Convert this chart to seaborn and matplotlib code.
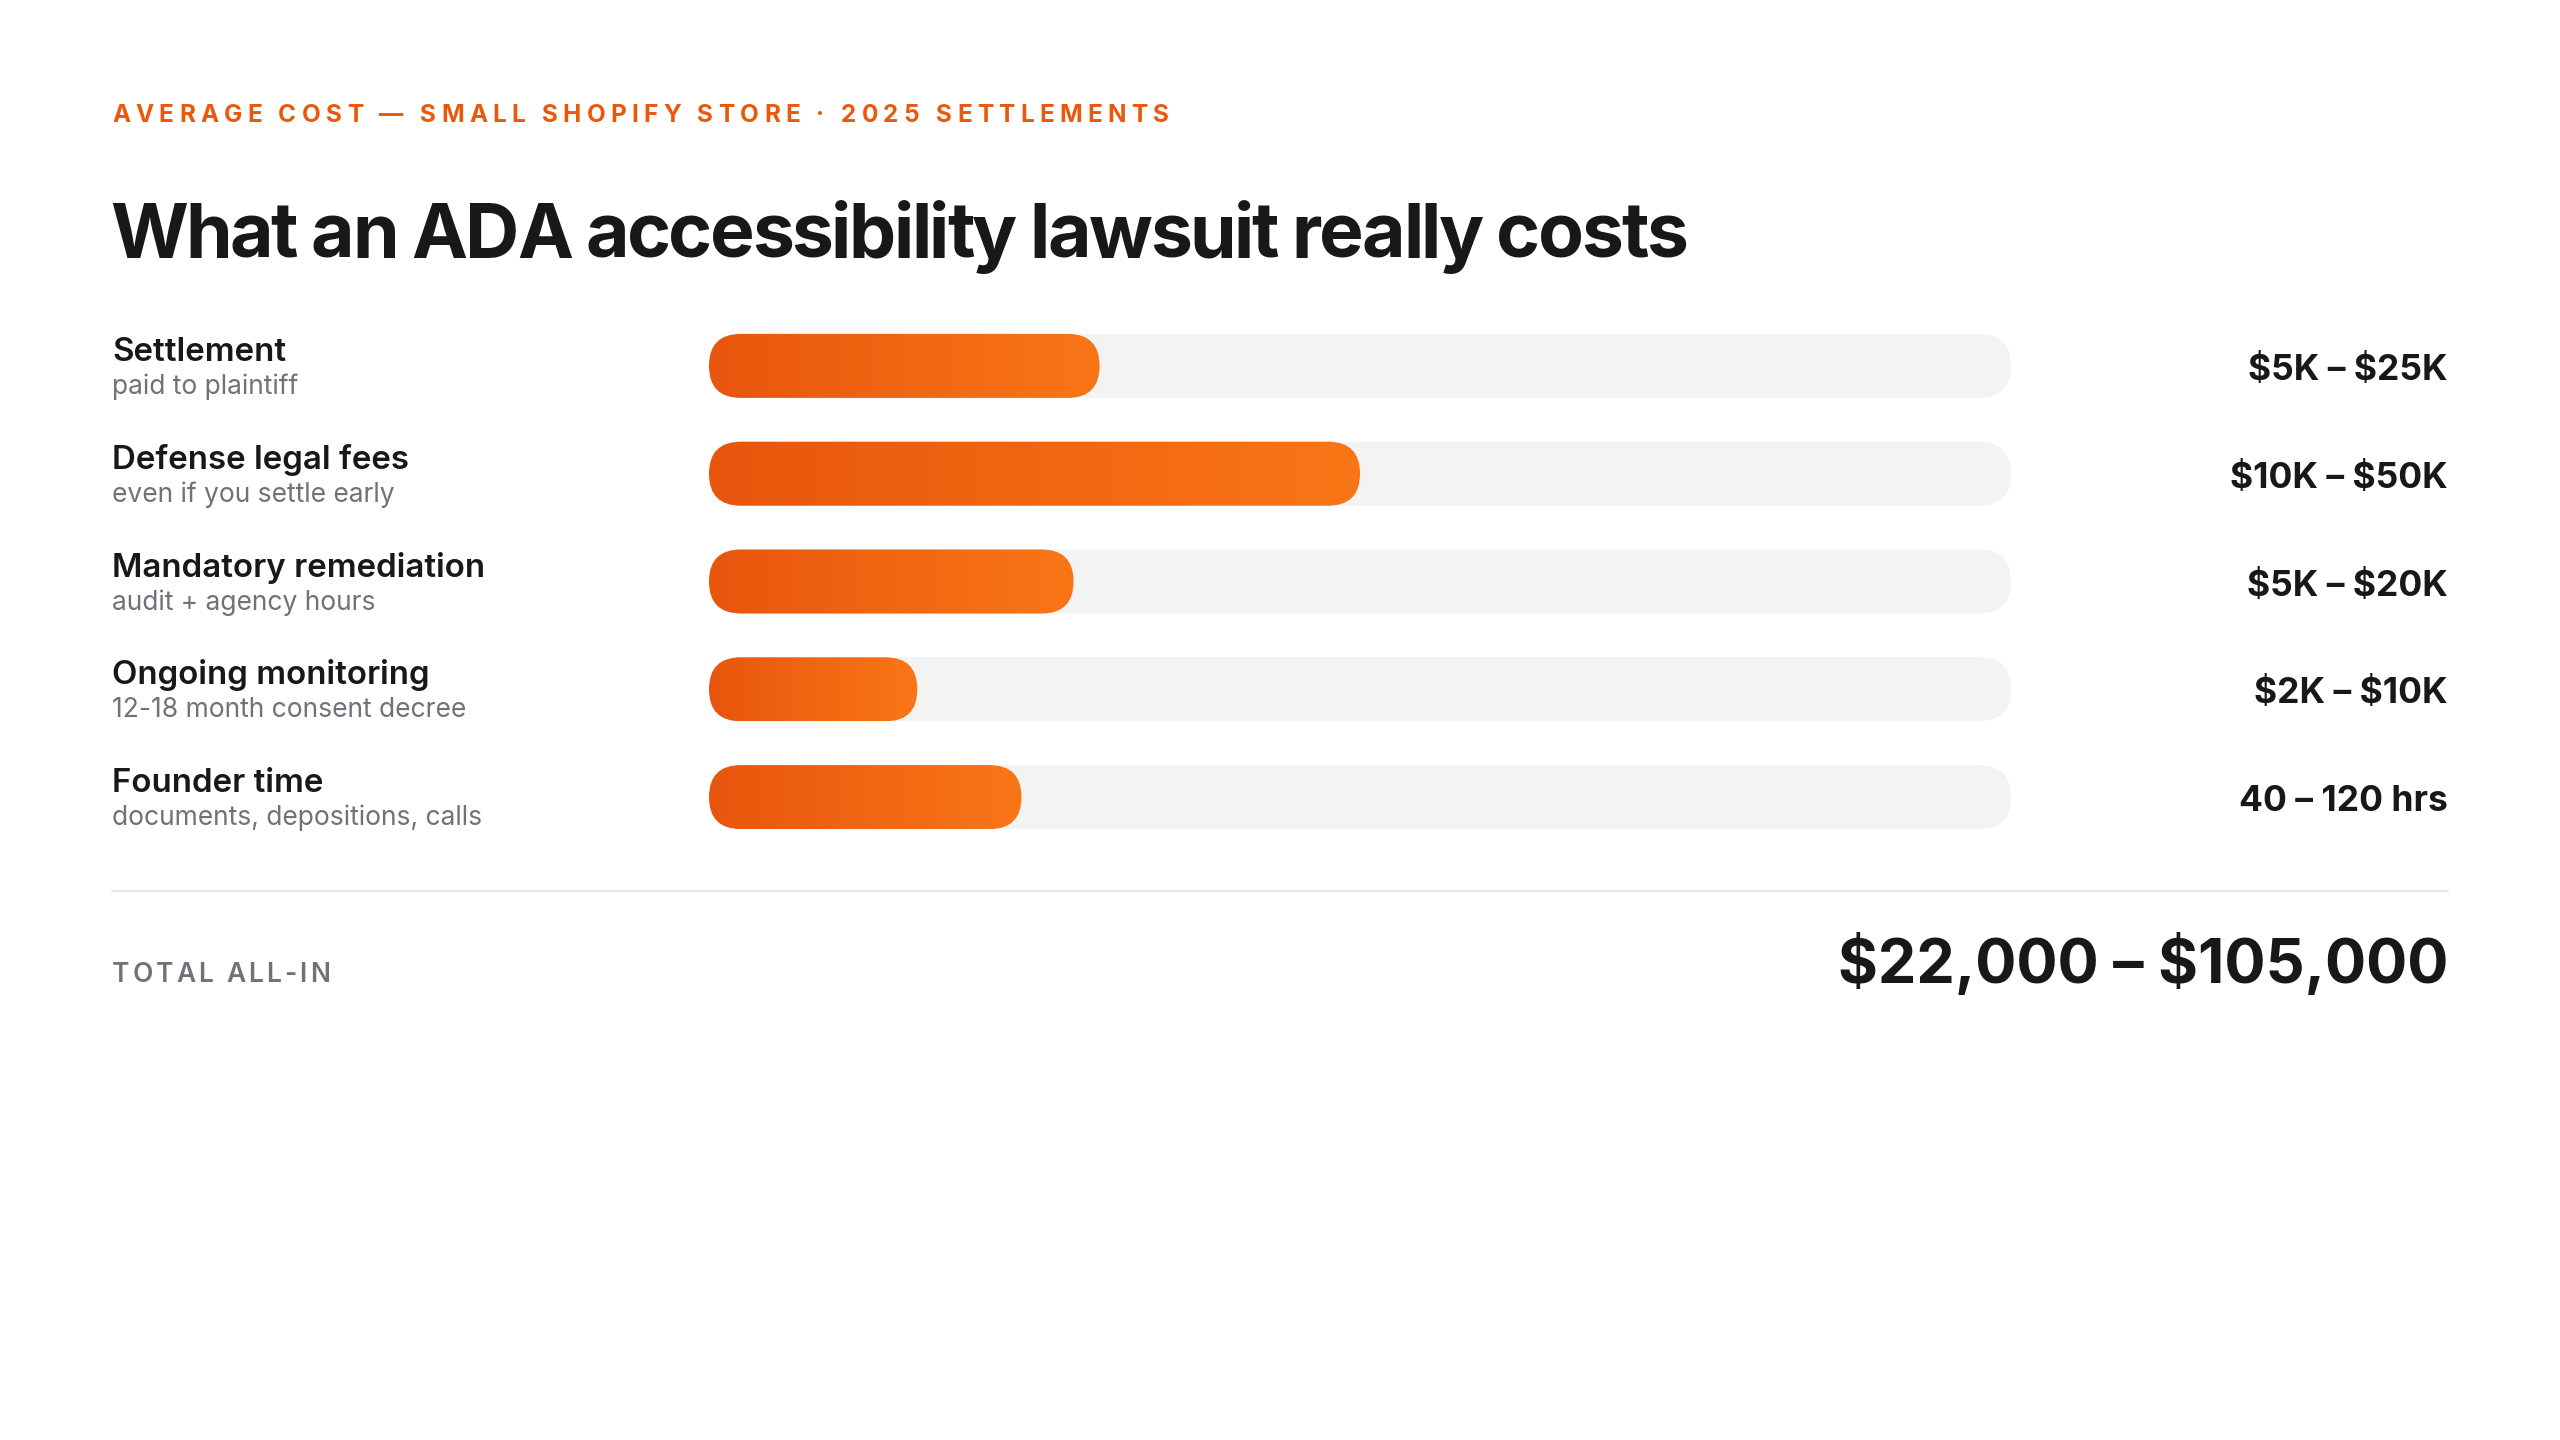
import numpy as np
import pandas as pd
import matplotlib
matplotlib.use("Agg")
import matplotlib.pyplot as plt
import seaborn as sns
from matplotlib.patches import FancyBboxPatch
from matplotlib.colors import LinearSegmentedColormap
from matplotlib.lines import Line2D
from matplotlib.transforms import blended_transform_factory

# chart data
cost_items = ["Settlement", "Defense legal fees", "Mandatory remediation",
              "Ongoing monitoring", "Founder time"]
cost_notes = ["paid to plaintiff", "even if you settle early", "audit + agency hours",
              "12-18 month consent decree", "documents, depositions, calls"]
bar_share = [30, 50, 28, 16, 24]          # % of track filled
cost_ranges = ["$5K – $25K", "$10K – $50K", "$5K – $20K", "$2K – $10K", "40 – 120 hrs"]
eyebrow = "AVERAGE COST — SMALL SHOPIFY STORE · 2025 SETTLEMENTS"
headline = "What an ADA accessibility lawsuit really costs"
total_label = "TOTAL ALL-IN"
total_value = "$22,000 – $105,000"

sns.set_theme(style="white")
plt.rcParams['font.family'] = ['Inter', 'DejaVu Sans']
plt.rcParams['text.parse_math'] = False   # keep the dollar signs literal

W, H = 2560, 1440
INK = "#18181b"
MUTED = "#71717a"
ORANGE = "#ea580c"

fig = plt.figure(figsize=(W / 100, H / 100), dpi=100)
fig.patch.set_facecolor("white")

# axes area for the bars (pixel geometry of the reference)
ax_left, ax_right, ax_top, ax_bottom = 709, 2011, 312, 851
ax = fig.add_axes([ax_left / W, 1 - ax_bottom / H, (ax_right - ax_left) / W, (ax_bottom - ax_top) / H])

df = pd.DataFrame({"item": cost_items, "share": bar_share, "track": [100] * len(cost_items)})
bar_w = 0.594
sns.barplot(data=df, x="track", y="item", color="#f3f3f3", width=bar_w, ax=ax)
sns.barplot(data=df, x="share", y="item", color=ORANGE, width=bar_w, ax=ax)
ax.set_xlim(0, 100)
ax.set_ylim(len(cost_items) - 0.5, -0.5)
ax.axis("off")

# swap seaborn's rectangles for pill shapes
px_x = (ax_right - ax_left) / 100
px_y = (ax_bottom - ax_top) / len(cost_items)
m_aspect = px_x / px_y
cmap = LinearSegmentedColormap.from_list("orange", ["#e8560d", "#f97617"])
gradient = np.linspace(0, 1, 256)[None, :]

rects = list(ax.patches)
n = len(cost_items)
for k, rect in enumerate(rects):
    x0, y0 = rect.get_xy()
    w, h = rect.get_width(), rect.get_height()
    rect.remove()
    r = h / m_aspect / 2
    pill = FancyBboxPatch((x0, y0), w, h, boxstyle=f"round,pad=0,rounding_size={r}",
                          mutation_aspect=m_aspect, linewidth=0)
    if k < n:
        pill.set_facecolor("#f3f3f3")
        pill.set_zorder(1)
        ax.add_patch(pill)
    else:
        pill.set_facecolor("none")
        pill.set_zorder(2)
        ax.add_patch(pill)
        im = ax.imshow(gradient, cmap=cmap, extent=[x0, x0 + w, y0 + h, y0],
                       aspect="auto", zorder=3, interpolation="bicubic")
        im.set_clip_path(pill)

ax.set_xlim(0, 100)
ax.set_ylim(len(cost_items) - 0.5, -0.5)

# row labels and values
trans = blended_transform_factory(fig.transFigure, ax.transData)
for i, (name, note, rng) in enumerate(zip(cost_items, cost_notes, cost_ranges)):
    ax.text(112 / W, i - 0.045, name, transform=trans, fontsize=23.8, fontweight="semibold",
            color=INK, va="baseline", ha="left")
    ax.text(112 / W, i + 0.26, note, transform=trans, fontsize=19, color=MUTED,
            va="baseline", ha="left")
    ax.text(2448 / W, i + 0.13, rng, transform=trans, fontsize=25.5, fontweight="bold",
            color=INK, va="baseline", ha="right")


def tracked(x_px, y_px, s, track_px, **kw):
    # draw text with extra letter spacing, one glyph at a time
    renderer = fig.canvas.get_renderer()
    probe = fig.text(0, 0, "xx", **kw)
    base = probe.get_window_extent(renderer).width
    probe.set_text("x x")
    space_w = probe.get_window_extent(renderer).width - base
    probe.remove()
    x = x_px
    for ch in s:
        if ch == " ":
            x += space_w + track_px
            continue
        t = fig.text(x / W, 1 - y_px / H, ch, va="baseline", ha="left", **kw)
        x += t.get_window_extent(renderer).width + track_px


tracked(112, 122, eyebrow, 5.3, fontsize=17.5, fontweight="bold", color=ORANGE)
tracked(110, 258, headline, -2.5, fontsize=54, fontweight="bold", color=INK)

fig.add_artist(Line2D([112 / W, 2448 / W], [1 - 891 / H, 1 - 891 / H], color="#e4e4e7", lw=1.5))
tracked(112, 982, total_label, 3.0, fontsize=19, fontweight="semibold", color=MUTED)
fig.text(2448 / W, 1 - 983 / H, total_value, fontsize=44, fontweight="bold", color=INK,
         va="baseline", ha="right")

fig.savefig("out.png", dpi=100, facecolor="white")
